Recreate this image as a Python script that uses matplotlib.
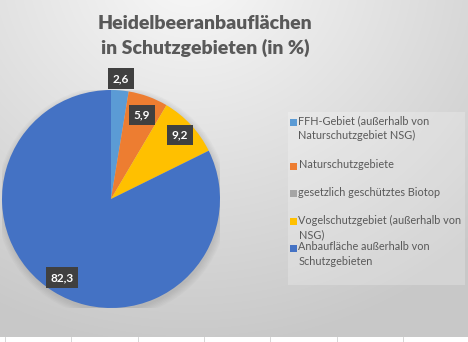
import numpy as np
import matplotlib.pyplot as plt
from matplotlib.patches import Rectangle, Circle

plt.rcParams['font.family'] = ['Lato', 'DejaVu Sans']

# Flächenanteile in %
kategorien = ['FFH-Gebiet (außerhalb von\nNaturschutzgebiet NSG)',
              'Naturschutzgebiete',
              'gesetzlich geschütztes Biotop',
              'Vogelschutzgebiet (außerhalb von\nNSG)',
              'Anbaufläche außerhalb von\nSchutzgebieten']
anteile = [2.6, 5.9, 0.0, 9.2, 82.3]
farben = ['#5B9BD5', '#ED7D31', '#A5A5A5', '#FFC000', '#4472C4']
label_abstand = [1.11, 0.82, 0.8, 0.86, 0.85]
legende_y = [122, 166, 193, 221, 248]   # Pixelzeile der ersten Textzeile

W, H = 468, 342
fig = plt.figure(figsize=(W / 100, H / 100), dpi=100)

# Hintergrund mit Verlauf
bg = fig.add_axes([0, 0, 1, 1])
yy, xx = np.mgrid[0:H, 0:W]
d = np.sqrt(((xx - 190) / 420) ** 2 + ((yy + 30) / 380) ** 2)
t = np.clip(d, 0, 1)
grau = 0.975 - 0.19 * t
img = np.dstack([grau, grau, grau])
img[337:, :, :] = 1.0
bg.imshow(img, extent=(0, W, H, 0), aspect='auto')
for x in [5, 71, 138, 204, 270, 337, 403]:
    bg.plot([x, x], [337, H], color='#d0d0d0', lw=0.6)
bg.set_xlim(0, W)
bg.set_ylim(H, 0)
bg.axis('off')

fig.text(205 / W, 1 - 36 / H, 'Heidelbeeranbauflächen\nin Schutzgebieten (in %)',
         ha='center', va='center', fontsize=14, fontweight='heavy',
         color='#595959', linespacing=1.4)

# Kreisdiagramm
cx, cy, r = 111, 199, 109
ax = fig.add_axes([(cx - r) / W, (H - cy - r) / H, 2 * r / W, 2 * r / H])
ax.set_xlim(-1, 1)
ax.set_ylim(-1, 1)
ax.axis('off')
for k in range(6):
    ax.add_patch(Circle((0.01, -0.025), 1.0 + 0.012 * k, color='#7f7f7f',
                        alpha=0.05, lw=0, zorder=0))
wedges, _ = ax.pie(anteile, colors=farben, startangle=90, counterclock=False,
                   radius=1.0, wedgeprops=dict(linewidth=0))
ax.set_xlim(-1, 1)
ax.set_ylim(-1, 1)

for w, v, f in zip(wedges, anteile, label_abstand):
    if v == 0:
        continue
    ang = np.deg2rad((w.theta1 + w.theta2) / 2)
    ax.text(f * np.cos(ang), f * np.sin(ang), f'{v:.1f}'.replace('.', ','),
            ha='center', va='center', fontsize=8.5, fontweight='bold', color='white',
            bbox=dict(boxstyle='square,pad=0.4', fc='#404040', ec='none'), zorder=5)

# Legende
bg.add_patch(Rectangle((288, 112), 177, 173, fc='white', alpha=0.22, lw=0))
for name, c, y in zip(kategorien, farben, legende_y):
    bg.add_patch(Rectangle((290, y - 3.5), 7, 7, fc=c, lw=0))
    bg.text(298.5, y - 6.5, name, ha='left', va='top', fontsize=7.8,
            color='#595959', linespacing=1.42)

fig.savefig('out.png', dpi=100)
